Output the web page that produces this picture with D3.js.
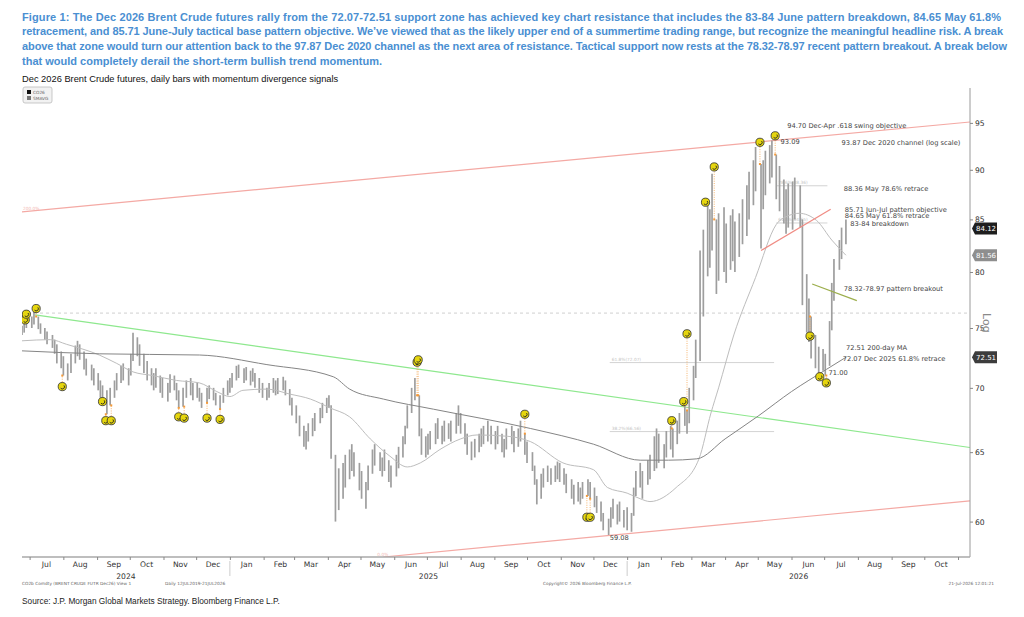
<!DOCTYPE html>
<html>
<head>
<meta charset="utf-8">
<style>
body { margin: 0; background: #fff; }
svg text { font-family: "DejaVu Sans", Verdana, sans-serif; }
.title { font: bold 11px "Liberation Sans", Arial, sans-serif; fill: #4a8fd2; }
.subtitle { font: 9.3px "Liberation Sans", Arial, sans-serif; fill: #111; }
.source { font: 8.3px "Liberation Sans", Arial, sans-serif; fill: #222; }
.tiny { font-size: 4.3px; fill: #666; }
.note { font-size: 6.7px; fill: #444; }
.axis text { font-size: 7.6px; fill: #333; }
.axis line { stroke: #888; }
.axis path { display: none; }
.bar { stroke: #9e9e9e; stroke-width: 1.7px; }
</style>
</head>
<body>
<svg width="1024" height="617"></svg>
<script src="https://d3js.org/d3.v7.min.js"></script>
<script>

// ---- data ----
var titleLines = [
  "Figure 1: The Dec 2026 Brent Crude futures rally from the 72.07-72.51 support zone has achieved key chart resistance that includes the 83-84 June pattern breakdown, 84.65 May 61.8%",
  "retracement, and 85.71 June-July tactical base pattern objective. We\u2019ve viewed that as the likely upper end of a summertime trading range, but recognize the meaningful headline risk. A break",
  "above that zone would turn our attention back to the 97.87 Dec 2020 channel as the next area of resistance. Tactical support now rests at the 78.32-78.97 recent pattern breakout. A break below",
  "that would completely derail the short-term bullish trend momentum."
];
var subtitle = "Dec 2026 Brent Crude futures, daily bars with momentum divergence signals";
var source = "Source: J.P. Morgan Global Markets Strategy. Bloomberg Finance L.P.";

// daily bars, [low, high], roughly every other session
var bars2024 = [
  // Jun
  [74.4,75.2],[74.6,75.4],[75.0,76.0],
  // Jul
  [75.0,76.0],[75.3,76.4],[74.9,76.0],[74.5,75.4],[74.0,75.0],[73.6,74.7],[73.3,74.4],[72.8,74.0],[72.0,73.6],[71.6,73.0],
  // Aug
  [71.0,72.6],[70.6,72.0],[71.2,72.8],[72.0,73.5],[72.6,73.9],[72.3,73.6],[71.5,73.0],[71.0,72.4],[70.6,71.9],[70.2,71.6],
  // Sep
  [69.8,71.2],[69.2,70.6],[69.0,70.2],[67.9,69.8],[68.6,70.0],[69.2,70.6],[69.8,71.2],[70.4,71.8],[70.6,72.0],[70.2,71.6],
  // Oct
  [71.0,72.8],[72.2,74.6],[72.6,74.2],[71.8,73.6],[71.2,72.8],[70.6,72.2],[70.2,71.6],[69.8,71.2],[70.0,71.6],[69.6,71.0],
  // Nov
  [69.2,70.8],[68.9,70.4],[69.6,71.1],[69.8,71.0],[69.0,70.4],[68.4,69.8],[68.5,70.0],[69.2,70.6],[69.4,70.8],[69.0,70.4],
  // Dec
  [69.2,70.4],[68.9,70.0],[68.4,69.6],[68.8,70.0],[69.1,70.2],[69.0,70.0],[68.6,69.6],[68.3,69.4],[68.8,70.0],[69.4,70.6]
];
var bars2025 = [
  // Jan
  [69.6,70.8],[70.0,71.2],[70.6,71.8],[70.8,71.9],[70.4,71.6],[70.6,71.7],[70.2,71.4],[70.5,71.6],[70.0,71.2],[69.6,70.8],
  // Feb
  [69.2,70.4],[69.0,70.0],[69.2,70.4],[69.6,70.8],[69.4,70.6],[69.5,70.8],[69.8,70.9],[69.4,70.6],[68.6,69.9],[67.8,69.2],
  // Mar
  [67.2,68.6],[66.2,67.8],[65.4,67.0],[65.2,66.6],[65.8,67.2],[66.2,67.6],[66.6,68.0],[67.2,68.4],[67.6,68.8],[68.0,69.2],
  // Apr
  [68.4,69.4],[64.5,68.6],[60.0,64.8],[60.8,63.8],[61.6,64.2],[62.4,64.8],[63.0,65.2],[63.6,65.6],[63.2,65.0],[62.2,64.2],
  // May
  [61.6,63.6],[60.9,62.8],[62.2,64.0],[63.4,65.2],[64.0,65.6],[63.6,65.0],[63.2,64.6],[63.6,65.2],[62.8,64.4],[62.4,64.0],
  // Jun
  [63.2,64.8],[63.8,65.4],[64.6,66.2],[65.6,67.0],[66.8,68.6],[68.0,70.0],[69.0,70.8],[66.2,69.4],[64.8,66.8],[64.6,66.2],
  // Jul
  [64.8,66.4],[65.2,66.6],[65.6,67.2],[66.0,67.6],[65.6,67.0],[65.8,67.4],[66.0,67.2],[65.8,67.4],[66.4,68.0],[67.0,68.6],
  // Aug
  [66.4,68.0],[65.6,67.2],[64.8,66.4],[64.4,65.8],[64.6,66.0],[65.0,66.4],[65.4,66.8],[65.6,67.0],[65.8,67.4],[65.6,67.0],
  // Sep
  [65.2,66.6],[65.6,67.0],[65.0,66.4],[64.6,66.0],[65.2,66.8],[65.6,67.0],[65.0,66.6],[65.4,66.8],[65.8,67.4],[64.8,66.4],
  // Oct
  [64.2,65.8],[63.6,65.0],[62.6,64.0],[61.2,63.0],[61.6,63.4],[62.4,63.8],[62.8,64.0],[62.6,63.8],[62.8,64.0],[63.0,64.3],
  // Nov
  [62.8,64.2],[62.6,63.8],[62.0,63.4],[61.6,63.0],[61.2,62.6],[61.4,62.8],[61.2,62.4],[61.6,62.8],[61.8,63.0],[61.6,62.8],
  // Dec
  [61.0,62.4],[60.6,61.8],[60.0,61.4],[59.4,60.6],[59.08,60.2],[59.6,61.0],[60.2,61.6],[59.8,61.2],[60.0,61.4],[59.6,60.8]
];
var bars2026 = [
  // Jan
  [59.4,61.0],[59.3,60.6],[60.4,62.4],[61.8,63.6],[62.4,64.2],[61.6,63.6],[62.6,64.4],[63.0,64.8],[63.6,66.2],[63.8,66.8],
  // Feb
  [64.2,66.4],[63.8,65.6],[64.6,66.6],[65.2,67.0],[64.6,66.8],[65.6,67.4],[66.4,68.0],[67.0,68.6],[66.4,68.2],[67.2,70.0],
  // Mar
  [69.0,71.8],[70.8,74.0],[72.2,82.0],[76.0,84.0],[79.6,86.8],[80.4,86.0],[82.0,89.6],[78.0,85.0],[79.2,85.6],[80.0,86.2],
  // Apr
  [79.0,84.6],[80.2,85.4],[81.0,86.0],[80.0,84.8],[81.4,85.6],[82.6,87.0],[83.4,88.4],[85.0,89.8],[86.4,91.0],[87.8,92.4],
  // May
  [82.2,90.6],[86.0,91.0],[87.4,92.0],[88.6,92.6],[89.2,93.09],[87.0,91.6],[85.8,90.4],[84.6,89.0],[83.6,88.0],[84.2,88.6],
  // Jun
  [84.0,88.8],[85.0,89.2],[84.2,88.4],[77.0,85.0],[74.6,79.8],[73.8,77.6],[72.4,76.0],[71.6,74.4],[71.2,73.4],[71.4,73.2],
  // Jul
  [71.0,72.8],[71.8,75.6],[74.8,79.0],[77.4,81.2],[80.2,83.0],[81.2,84.2],[82.6,85.0]
];

var ma50 = [
  ["2024-06-24",73.9],["2024-07-20",74.0],["2024-08-04",73.6],["2024-09-03",72.7],["2024-09-19",72.0],
  ["2024-10-04",71.3],["2024-10-22",71.0],["2024-11-13",70.6],["2024-12-04",70.4],["2024-12-20",69.7],
  ["2025-01-01",69.3],["2025-01-13",69.8],["2025-02-04",69.9],["2025-02-25",69.5],["2025-03-16",69.1],
  ["2025-04-03",68.4],["2025-04-21",67.7],["2025-05-10",66.0],["2025-05-28",64.7],["2025-06-13",63.9],
  ["2025-06-25",64.2],["2025-07-13",65.2],["2025-08-01",66.0],["2025-08-16",66.3],["2025-09-13",66.2],
  ["2025-10-04",65.8],["2025-11-03",64.2],["2025-12-01",63.7],["2025-12-14",62.4],["2026-01-01",62.0],
  ["2026-01-13",61.6],["2026-01-22",61.4],["2026-02-15",62.4],["2026-03-08",64.5],["2026-03-19",68.0],
  ["2026-03-26",70.0],["2026-04-09",74.4],["2026-04-29",79.5],["2026-05-18",84.5],["2026-05-30",85.4],
  ["2026-06-08",85.6],["2026-06-24",84.9],["2026-07-08",83.0],["2026-07-21",81.56]
];
var ma200 = [
  ["2024-06-24",73.05],["2024-09-03",72.8],["2024-12-04",72.7],["2025-02-04",71.9],["2025-04-06",70.9],
  ["2025-04-21",69.9],["2025-05-22",69.1],["2025-07-07",68.3],["2025-10-04",66.8],["2025-12-01",65.6],
  ["2026-01-13",64.4],["2026-02-08",64.4],["2026-03-06",64.5],["2026-04-01",66.0],["2026-05-02",67.8],
  ["2026-06-01",69.7],["2026-07-03",71.5],["2026-07-21",72.51]
];

// divergence signals [date, marker level]
var signals = [
  ["2024-06-27",75.7],["2024-06-28",76.2],["2024-07-07",76.7],["2024-07-31",70.1],["2024-09-06",68.9],
  ["2024-09-09",67.4],["2024-09-14",67.4],["2024-11-15",67.7],["2024-11-20",67.6],["2024-12-11",67.6],
  ["2024-12-23",67.5],["2025-06-22",72.1],["2025-06-23",72.3],["2025-09-29",67.9],["2025-11-25",60.3],
  ["2025-11-28",60.3],["2026-02-11",67.4],["2026-02-22",68.9],["2026-02-25",74.5],["2026-03-14",86.7],
  ["2026-03-22",90.3],["2026-05-03",92.9],["2026-05-17",93.6],["2026-06-18",74.3],["2026-06-27",70.9],
  ["2026-07-03",70.4]
];

var upperChannel = [["2024-06-24",85.74],["2026-11-12",95.1]];
var lowerChannel = [["2025-05-22",57.6],["2026-11-12",61.45]];
var greenTrend = [["2024-07-06",76.15],["2026-11-12",65.35]];
var redTrend = [["2026-05-04",82.0],["2026-07-07",86.0]];
var oliveTrend = [["2026-06-20",78.9],["2026-07-31",77.4]];
var dashedLevel = 76.3;

var fibLevels = [
  ["61.8%(72.07)","2025-12-16","2026-05-16",72.07],
  ["38.2%(66.56)","2025-12-16","2026-05-16",66.56],
  ["78.6%(88.36)","2026-05-18","2026-07-04",88.36],
  ["61.8%(84.65)","2026-05-18","2026-07-04",84.65]
];

var notes = [
  ["94.70 Dec-Apr .618 swing objective","2026-05-28",94.7],
  ["93.09","2026-05-22",93.0],
  ["93.87 Dec 2020 channel (log scale)","2026-07-17",92.85],
  ["88.36 May 78.6% retrace","2026-07-19",88.1],
  ["85.71 Jun-Jul pattern objective","2026-07-20",86.0],
  ["84.65 May 61.8% retrace","2026-07-20",85.35],
  ["83-84 breakdown","2026-07-25",84.55],
  ["78.32-78.97 pattern breakout","2026-07-19",78.5],
  ["72.51 200-day MA","2026-07-21",73.3],
  ["72.07 Dec 2025 61.8% retrace","2026-07-18",72.4],
  ["71.00","2026-07-05",71.2],
  ["59.08","2025-12-16",58.9]
];

var lastValues = [["84.12",84.12],["81.56",81.56],["72.51",72.51]];
var yTicks = [60, 65, 70, 75, 80, 85, 90, 95];

// ---- layout ----
var svg = d3.select("svg");
var pLeft = 22, pRight = 970, pTop = 88, pBottom = 557;
var parse = d3.utcParse("%Y-%m-%d");

var x = d3.scaleUtc()
  .domain([parse("2024-06-24"), parse("2026-11-12")])
  .range([pLeft, pRight]);
var y = d3.scaleLog()
  .domain([57.6, 98.9])
  .range([pBottom, pTop]);

// titles
var fitTo = [979, 981, 985];
svg.append("g").selectAll("text")
  .data(titleLines)
  .join("text")
  .attr("class", "title")
  .attr("x", 22)
  .attr("y", function(d, i) { return 20.5 + i * 14.7; })
  .text(function(d) { return d; })
  .each(function(d, i) {
    if (i < 3) d3.select(this).attr("textLength", fitTo[i]).attr("lengthAdjust", "spacing");
  });

svg.append("text").attr("class", "subtitle").attr("x", 22).attr("y", 82).text(subtitle);
svg.append("text").attr("class", "source").attr("x", 22).attr("y", 604).text(source);

// little legend box
var lg = svg.append("g").attr("transform", "translate(23,87)");
lg.append("rect").attr("width", 29).attr("height", 16).attr("rx", 2)
  .attr("fill", "#f2f2f2").attr("stroke", "#bbb").attr("stroke-width", 0.8);
lg.append("rect").attr("x", 4).attr("y", 3).attr("width", 4).attr("height", 4).attr("fill", "#111");
lg.append("rect").attr("x", 4).attr("y", 9).attr("width", 4).attr("height", 4).attr("fill", "#777");
lg.append("text").attr("class", "tiny").attr("x", 10).attr("y", 7).text("CO26");
lg.append("text").attr("class", "tiny").attr("x", 10).attr("y", 13).text("SMAVG");

// plot area
svg.append("clipPath").attr("id", "plotclip")
  .append("rect").attr("x", pLeft).attr("y", pTop).attr("width", pRight - pLeft).attr("height", pBottom - pTop);
var plot = svg.append("g").attr("clip-path", "url(#plotclip)");

function seg(pts) {
  return d3.line()
    .x(function(d) { return x(parse(d[0])); })
    .y(function(d) { return y(d[1]); })(pts);
}

// fib levels
plot.selectAll(".fib")
  .data(fibLevels)
  .join("line")
  .attr("class", "fib")
  .attr("x1", function(d) { return x(parse(d[1])); })
  .attr("x2", function(d) { return x(parse(d[2])); })
  .attr("y1", function(d) { return y(d[3]); })
  .attr("y2", function(d) { return y(d[3]); })
  .attr("stroke", "#c8c8c8").attr("stroke-width", 0.8);
plot.selectAll(".fibtxt")
  .data(fibLevels)
  .join("text")
  .attr("class", "tiny fibtxt")
  .style("fill", "#c4c4c4")
  .attr("x", function(d) { return x(parse(d[1])) + 2; })
  .attr("y", function(d) { return y(d[3]) - 1.5; })
  .text(function(d) { return d[0]; });

// dashed level
plot.append("line")
  .attr("x1", pLeft).attr("x2", pRight)
  .attr("y1", y(dashedLevel)).attr("y2", y(dashedLevel))
  .attr("stroke", "#cfcfcf").attr("stroke-dasharray", "3,3");

// channels and trend lines
plot.append("path").attr("d", seg(upperChannel)).attr("stroke", "#f4a9a4").attr("fill", "none").attr("stroke-width", 1.2);
plot.append("path").attr("d", seg(lowerChannel)).attr("stroke", "#f4a9a4").attr("fill", "none").attr("stroke-width", 1.2);
plot.append("path").attr("d", seg(greenTrend)).attr("stroke", "#8ee88e").attr("fill", "none").attr("stroke-width", 1.2);
plot.append("text").attr("class", "tiny").style("fill", "#f3b8b4")
  .attr("x", pLeft + 1).attr("y", y(upperChannel[0][1]) - 1.5).text("200.0%");
plot.append("text").attr("class", "tiny").style("fill", "#f3b8b4")
  .attr("x", x(parse(lowerChannel[0][0])) - 6).attr("y", pBottom - 1).text("0.0%");

// bars
var allBars = bars2024.concat(bars2025, bars2026);
var sessions = d3.utcDays(parse("2024-06-24"), parse("2026-07-22"))
  .filter(function(d) { return d.getUTCDay() % 6 !== 0; });
var step = (sessions.length - 1) / (allBars.length - 1);
var barData = allBars.map(function(b, i) {
  return { date: sessions[Math.round(i * step)], lo: b[0], hi: b[1] };
});

plot.append("g").selectAll("line")
  .data(barData)
  .join("line")
  .attr("class", "bar")
  .attr("x1", function(d) { return x(d.date); })
  .attr("x2", function(d) { return x(d.date); })
  .attr("y1", function(d) { return y(d.hi); })
  .attr("y2", function(d) { return y(d.lo); });

// moving averages
var maLine = d3.line()
  .curve(d3.curveMonotoneX)
  .x(function(d) { return x(parse(d[0])); })
  .y(function(d) { return y(d[1]); });
plot.append("path").attr("d", maLine(ma50)).attr("fill", "none").attr("stroke", "#bdbdbd").attr("stroke-width", 1);
plot.append("path").attr("d", maLine(ma200)).attr("fill", "none").attr("stroke", "#858585").attr("stroke-width", 1);

plot.append("path").attr("d", seg(redTrend)).attr("stroke", "#f08c84").attr("fill", "none").attr("stroke-width", 1.2);
plot.append("path").attr("d", seg(oliveTrend)).attr("stroke", "#9cae4c").attr("fill", "none").attr("stroke-width", 1.3);

// signals: dotted link to nearest bar, then the yellow marker
var bisect = d3.bisector(function(d) { return d.date; }).center;
var sig = signals.map(function(s) {
  var t = parse(s[0]);
  var b = barData[bisect(barData, t)];
  var end = s[1] < b.lo ? b.lo : b.hi;
  return { date: t, level: s[1], end: end };
});
var sg = plot.append("g");
sg.selectAll("line")
  .data(sig)
  .join("line")
  .attr("x1", function(d) { return x(d.date); })
  .attr("x2", function(d) { return x(d.date); })
  .attr("y1", function(d) { return y(d.level); })
  .attr("y2", function(d) { return y(d.end); })
  .attr("stroke", "#f4a24a").attr("stroke-width", 0.8).attr("stroke-dasharray", "1,1.3");
sg.selectAll("rect")
  .data(sig)
  .join("rect")
  .attr("x", function(d) { return x(d.date) - 1; })
  .attr("y", function(d) { return y(d.end) - 1; })
  .attr("width", 2).attr("height", 2)
  .attr("fill", "#f49a3a");
var mk = sg.selectAll("g.mk")
  .data(sig)
  .join("g")
  .attr("class", "mk")
  .attr("transform", function(d) { return "translate(" + x(d.date) + "," + y(d.level) + ")"; });
mk.append("circle").attr("r", 4.1).attr("fill", "#e6d60e").attr("stroke", "#2b2b2b").attr("stroke-width", 0.8);
mk.append("path").attr("d", "M-1.6,1.6 A2,2 0 1 0 1.7,-1.2")
  .attr("fill", "none").attr("stroke", "#222").attr("stroke-width", 0.9);

// annotations
svg.append("g").selectAll("text")
  .data(notes)
  .join("text")
  .attr("class", "note")
  .attr("x", function(d) { return x(parse(d[1])); })
  .attr("y", function(d) { return y(d[2]); })
  .attr("dy", "0.35em")
  .text(function(d) { return d[0]; });

// frame
svg.append("line").attr("x1", pRight).attr("x2", pRight).attr("y1", pTop).attr("y2", pBottom)
  .attr("stroke", "#9a9a9a");
svg.append("line").attr("x1", pLeft).attr("x2", pRight).attr("y1", pBottom).attr("y2", pBottom)
  .attr("stroke", "#a8a8a8").attr("stroke-width", 1.4);

// right axis
svg.append("g")
  .attr("class", "axis")
  .attr("transform", "translate(" + pRight + ",0)")
  .call(d3.axisRight(y).tickValues(yTicks).tickSize(3).tickPadding(2).tickFormat(d3.format("d")));

// value tags on the axis
var tagFill = ["#1e1e1e", "#8e8e8e", "#3c3c3c"];
var tags = svg.append("g").selectAll("g")
  .data(lastValues)
  .join("g")
  .attr("transform", function(d) { return "translate(" + (pRight + 2) + "," + y(d[1]) + ")"; });
tags.append("path")
  .attr("d", "M0,0 L3,-6 L25,-6 L25,6 L3,6 Z")
  .attr("fill", function(d, i) { return tagFill[i]; });
tags.append("text")
  .attr("x", 4).attr("dy", "0.35em")
  .style("font-size", "7px").style("fill", "#fff")
  .text(function(d) { return d[0]; });

svg.append("text")
  .attr("transform", "translate(983,313) rotate(90)")
  .style("font-size", "11px").style("fill", "#8a8a8a")
  .text("Log");

// bottom axis: month boundaries and mid-month labels
var months = d3.utcMonths(x.domain()[0], x.domain()[1]);
var mids = months.map(function(m) { return new Date(m.getTime() + 15 * 864e5); })
  .filter(function(d) { return d < x.domain()[1]; });

svg.append("g")
  .attr("class", "axis")
  .attr("transform", "translate(0," + pBottom + ")")
  .call(d3.axisBottom(x).tickValues(months).tickSize(3).tickFormat(""));
svg.append("g")
  .attr("class", "axis")
  .attr("transform", "translate(0," + (pBottom + 1) + ")")
  .call(d3.axisBottom(x).tickValues(mids).tickSize(0).tickPadding(4).tickFormat(d3.utcFormat("%b")));

var years = [
  [x.domain()[0], parse("2025-01-01"), "2024"],
  [parse("2025-01-01"), parse("2026-01-01"), "2025"],
  [parse("2026-01-01"), x.domain()[1], "2026"]
];
svg.append("g").selectAll("text")
  .data(years)
  .join("text")
  .attr("x", function(d) { return (x(d[0]) + x(d[1])) / 2; })
  .attr("y", 578.5)
  .attr("text-anchor", "middle")
  .style("font-size", "7.6px").style("fill", "#333")
  .text(function(d) { return d[2]; });
svg.append("g").selectAll("line")
  .data(years.slice(1))
  .join("line")
  .attr("x1", function(d) { return x(d[0]); })
  .attr("x2", function(d) { return x(d[0]); })
  .attr("y1", 561).attr("y2", 576)
  .attr("stroke", "#ccc");

// footer strip
svg.append("text").attr("class", "tiny").attr("x", 22).attr("y", 585).text("CO2b Comdty (BRENT CRUDE FUTR  Dec26) View 1");
svg.append("text").attr("class", "tiny").attr("x", 165).attr("y", 585).text("Daily 12JUL2019-21JUL2026");
svg.append("text").attr("class", "tiny").attr("x", 543).attr("y", 585).text("Copyright\u00a9 2026 Bloomberg Finance L.P.");
svg.append("text").attr("class", "tiny").attr("x", 994).attr("y", 585).attr("text-anchor", "end").text("21-Jul-2026 12:01:21");

</script>
</body>
</html>
